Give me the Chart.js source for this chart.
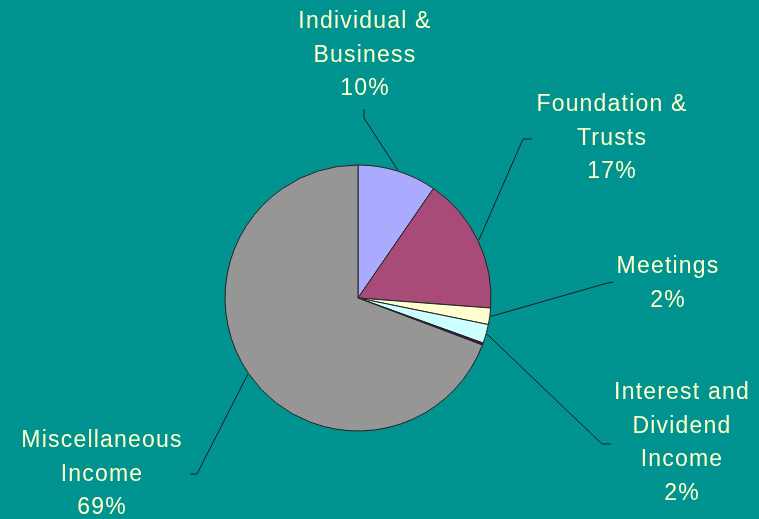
<!DOCTYPE html>
<html>
<head>
<meta charset="utf-8">
<script src="https://cdn.jsdelivr.net/npm/chart.js@4"></script>
<style>
  html, body { margin: 0; padding: 0; background: #00938F; }
  #wrap { width: 759px; height: 519px; position: relative; }
</style>
</head>
<body>
<div id="wrap"><canvas id="pie"></canvas></div>
<script>
"use strict";

// data (share of income, %)
const categories = ["Individual & Business", "Foundation & Trusts", "Meetings", "Interest and Dividend Income", "Other", "Miscellaneous Income"];
const values = [9.6, 16.6, 2.0, 2.3, 0.25, 69.25];
const colors = ["#AAAAFF", "#A94B78", "#FFFFD0", "#CCFFFF", "#660066", "#969696"];

// how each label is broken into lines (null = no label drawn)
const labelLines = [
    ["Individual &", "Business"],
    ["Foundation &", "Trusts"],
    ["Meetings"],
    ["Interest and", "Dividend", "Income"],
    null,
    ["Miscellaneous", "Income"]
];

// layout: label centre x / first baseline, leader elbow and end
const labelPos = [
    { x: 365, y: 28, elbow: [364, 118], end: [364, 109] },
    { x: 612, y: 111, elbow: [523, 139], end: [532, 139] },
    { x: 668, y: 273, elbow: [604, 284], end: [613, 282] },
    { x: 682, y: 399, elbow: [602, 444], end: [611, 444] },
    null,
    { x: 102, y: 447, elbow: [197, 474], end: [190, 474] }
];
const LINE_H = 33.5;

const total = values.reduce((s, v) => s + v, 0);
const pct = v => Math.round(v * 100 / total) + "%";

const labelsPlugin = {
    id: "pieLabels",
    afterDatasetsDraw(chart) {
        const ctx = chart.ctx;
        const arcs = chart.getDatasetMeta(0).data;
        ctx.save();
        arcs.forEach((arc, i) => {
            const pos = labelPos[i];
            if (!pos) return;
            const mid = (arc.startAngle + arc.endAngle) / 2;
            const r = arc.outerRadius + 1;
            ctx.beginPath();
            ctx.strokeStyle = "#1a1a1a";
            ctx.lineWidth = 1;
            ctx.moveTo(arc.x + Math.cos(mid) * r, arc.y + Math.sin(mid) * r);
            ctx.lineTo(pos.elbow[0], pos.elbow[1]);
            ctx.lineTo(pos.end[0], pos.end[1]);
            ctx.stroke();

            const lines = labelLines[i].concat([pct(values[i])]);
            ctx.fillStyle = "#FFFFCC";
            ctx.font = "23px 'Liberation Sans', Arial, sans-serif";
            ctx.letterSpacing = "1.2px";
            ctx.textAlign = "center";
            ctx.textBaseline = "alphabetic";
            lines.forEach((t, k) => ctx.fillText(t, pos.x, pos.y + k * LINE_H));
        });
        ctx.restore();
    }
};

new Chart(document.getElementById("pie"), {
    type: "pie",
    data: {
        labels: categories,
        datasets: [{
            data: values,
            backgroundColor: colors,
            borderColor: "#222222",
            borderWidth: 1,
            hoverOffset: 0
        }]
    },
    options: {
        responsive: true,
        maintainAspectRatio: false,
        animation: false,
        radius: 133,
        layout: { padding: { left: 225, right: 268, top: 166, bottom: 89 } },
        plugins: {
            legend: { display: false },
            tooltip: { enabled: false }
        }
    },
    plugins: [labelsPlugin]
});
</script>
</body>
</html>
